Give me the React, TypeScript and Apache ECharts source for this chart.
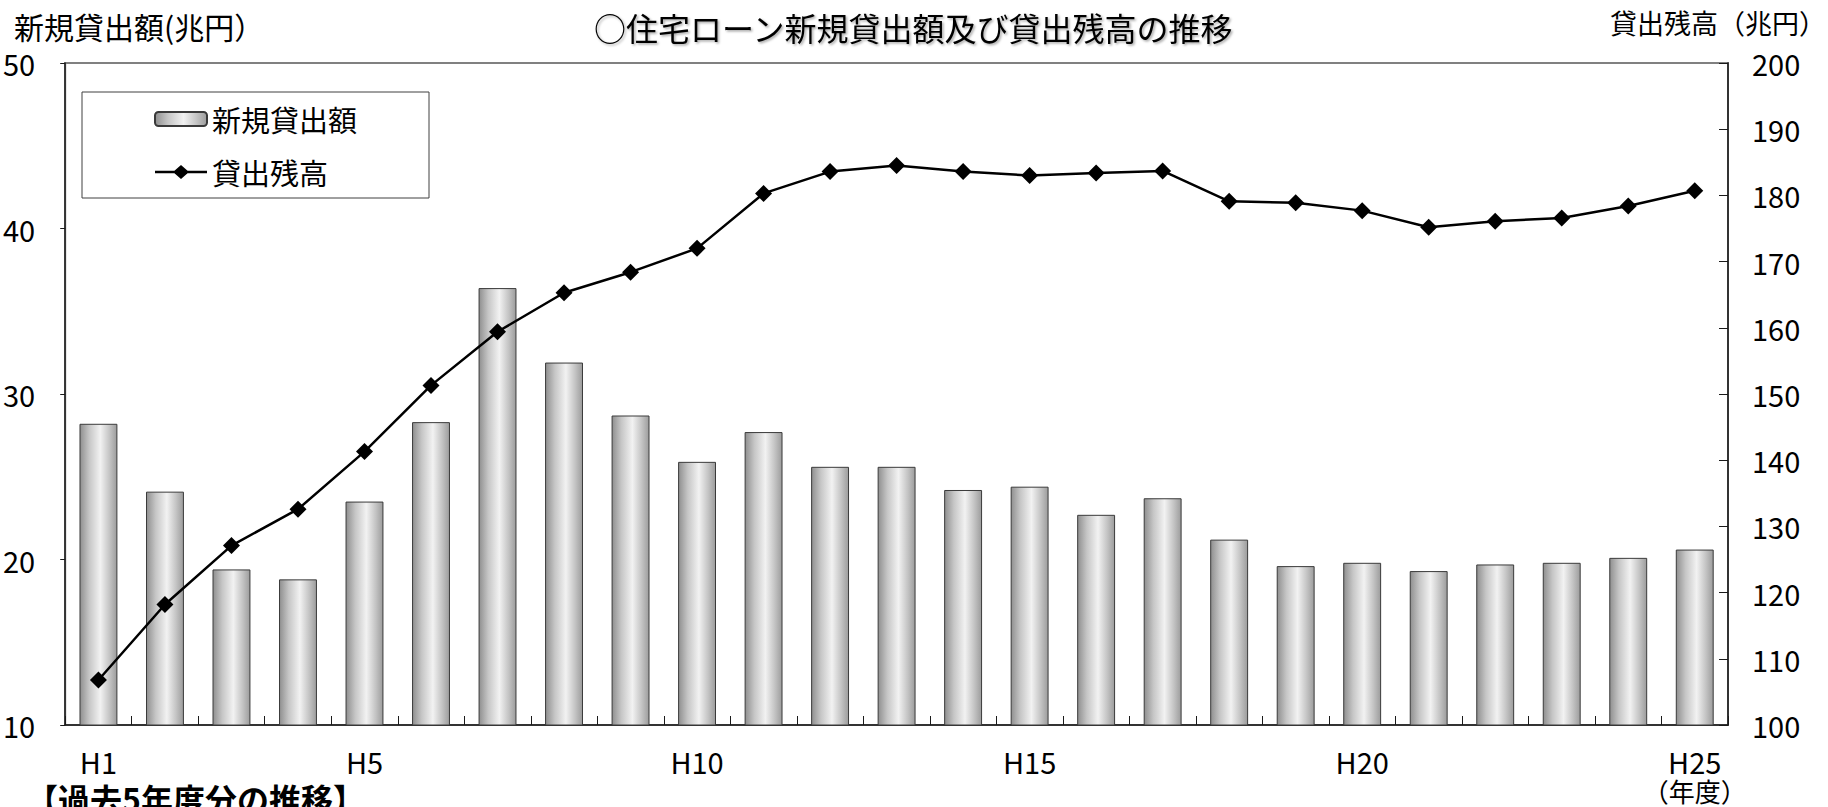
import React, { useEffect, useRef } from 'react';
import * as echarts from 'echarts';

// Fiscal years (Heisei) on the category axis
const years = [
  'H1', 'H2', 'H3', 'H4', 'H5', 'H6', 'H7', 'H8', 'H9', 'H10',
  'H11', 'H12', 'H13', 'H14', 'H15', 'H16', 'H17', 'H18', 'H19', 'H20',
  'H21', 'H22', 'H23', 'H24', 'H25',
];
// Years that carry a visible axis label
const labeledYears = ['H1', 'H5', 'H10', 'H15', 'H20', 'H25'];

// New housing-loan lending (trillion yen, left axis)
const newLending = [
  28.2, 24.1, 19.4, 18.8, 23.5, 28.3, 36.4, 31.9, 28.7, 25.9,
  27.7, 25.6, 25.6, 24.2, 24.4, 22.7, 23.7, 21.2, 19.6, 19.8,
  19.3, 19.7, 19.8, 20.1, 20.6,
];
// Outstanding housing-loan balance (trillion yen, right axis)
const outstanding = [
  106.8, 118.2, 127.1, 132.6, 141.3, 151.3, 159.4, 165.3, 168.4, 172.0,
  180.3, 183.6, 184.5, 183.6, 183.0, 183.4, 183.7, 179.1, 178.9, 177.7,
  175.2, 176.1, 176.6, 178.4, 180.7,
];

const JP = "'Noto Sans CJK JP', 'Noto Sans', sans-serif";
const NUM = "'Liberation Sans Narrow', 'Noto Sans CJK JP', sans-serif";

// Legend marker for the balance line: a short bar with a diamond on it
const LINE_ICON =
  'path://M0,5.8 L52,5.8 L52,8.2 L0,8.2 Z M26,0 L34,7 L26,14 L18,7 Z';

export default function App() {
  const ref = useRef<HTMLDivElement>(null);

  useEffect(() => {
    const chart = echarts.init(ref.current!, null, { renderer: 'svg' });

    // Cylinder-like silver shading across each bar
    const barFill = new echarts.graphic.LinearGradient(0, 0, 1, 0, [
      { offset: 0, color: '#8f8f8f' },
      { offset: 0.25, color: '#c6c6c6' },
      { offset: 0.55, color: '#f2f2f2' },
      { offset: 0.8, color: '#c4c4c4' },
      { offset: 1, color: '#9c9c9c' },
    ]);

    chart.setOption({
      animation: false,
      backgroundColor: '#ffffff',
      textStyle: { fontFamily: JP },
      grid: {
        left: 51,
        right: 100,
        top: 63,
        bottom: 82,
        show: true,
        borderColor: '#808080',
        borderWidth: 2,
        backgroundColor: 'transparent',
      },
      legend: {
        data: [
          { name: '新規貸出額' },
          { name: '貸出残高', icon: LINE_ICON, itemStyle: { color: '#000' } },
        ],
        orient: 'vertical',
        left: 82,
        top: 92,
        padding: [12, 72, 11, 72],
        itemGap: 23,
        itemWidth: 52,
        itemHeight: 14,
        borderColor: '#404040',
        borderWidth: 1,
        backgroundColor: '#ffffff',
        textStyle: { fontSize: 29, fontFamily: JP, color: '#000', lineHeight: 30 },
      },
      graphic: [
        {
          type: 'text',
          left: 'center',
          top: 11,
          style: {
            text: '○住宅ローン新規貸出額及び貸出残高の推移',
            fontSize: 32,
            fontFamily: JP,
            fill: '#000',
            textShadowColor: 'rgba(0,0,0,0.35)',
            textShadowBlur: 2,
            textShadowOffsetX: 1.5,
            textShadowOffsetY: 1.5,
          },
        },
        {
          type: 'text',
          x: 14,
          y: 26,
          style: {
            text: '新規貸出額(兆円）',
            fontSize: 30,
            fontFamily: JP,
            fill: '#000',
            textAlign: 'left',
            textVerticalAlign: 'middle',
          },
        },
        {
          type: 'text',
          x: 1826,
          y: 22,
          style: {
            text: '貸出残高（兆円）',
            fontSize: 27,
            fontFamily: JP,
            fill: '#000',
            textAlign: 'right',
            textVerticalAlign: 'middle',
          },
        },
        {
          type: 'text',
          x: 26,
          y: 782,
          style: {
            text: '【過去5年度分の推移】',
            fontSize: 32,
            fontWeight: 'bold',
            fontFamily: JP,
            fill: '#000',
            textAlign: 'left',
            textVerticalAlign: 'top',
          },
        },
      ],
      xAxis: {
        type: 'category',
        data: years,
        boundaryGap: true,
        axisLine: { show: true, lineStyle: { color: '#1a1a1a', width: 1.5 } },
        axisTick: {
          show: true,
          inside: true,
          length: 9,
          interval: 0,
          lineStyle: { color: '#1a1a1a' },
        },
        axisLabel: {
          interval: (_i: number, v: string) => labeledYears.includes(v),
          formatter: (v: string) => (v === 'H25' ? 'H25\n{u|（年度）}' : v),
          fontSize: 29,
          fontFamily: NUM,
          color: '#000',
          margin: 20,
          lineHeight: 31,
          rich: {
            u: { fontSize: 26, fontFamily: JP, color: '#000', lineHeight: 28 },
          },
        },
        splitLine: { show: false },
      },
      yAxis: [
        {
          type: 'value',
          position: 'left',
          min: 10,
          max: 50,
          interval: 10,
          axisLine: { show: true, lineStyle: { color: '#1a1a1a', width: 1.5 } },
          axisTick: { show: true, inside: false, length: 5, lineStyle: { color: '#1a1a1a' } },
          axisLabel: { fontSize: 29, fontFamily: NUM, color: '#000', margin: 30 },
          splitLine: { show: false },
        },
        {
          type: 'value',
          position: 'right',
          min: 100,
          max: 200,
          interval: 10,
          axisLine: { show: true, lineStyle: { color: '#1a1a1a', width: 1.5 } },
          axisTick: { show: true, inside: true, length: 9, lineStyle: { color: '#1a1a1a' } },
          axisLabel: { fontSize: 29, fontFamily: NUM, color: '#000', margin: 24 },
          splitLine: { show: false },
        },
      ],
      series: [
        {
          name: '新規貸出額',
          type: 'bar',
          yAxisIndex: 0,
          data: newLending,
          barWidth: '57%',
          itemStyle: { color: barFill, borderColor: '#3a3a3a', borderWidth: 1 },
        },
        {
          name: '貸出残高',
          type: 'line',
          yAxisIndex: 1,
          data: outstanding,
          symbol: 'diamond',
          symbolSize: 17,
          color: '#000',
          lineStyle: { color: '#000', width: 2.5 },
          itemStyle: { color: '#000' },
          z: 3,
        },
      ],
    });

    return () => chart.dispose();
  }, []);

  return (
    <div
      ref={ref}
      style={{ position: 'absolute', left: 0, top: 0, width: 1828, height: 807, background: '#fff' }}
    />
  );
}
